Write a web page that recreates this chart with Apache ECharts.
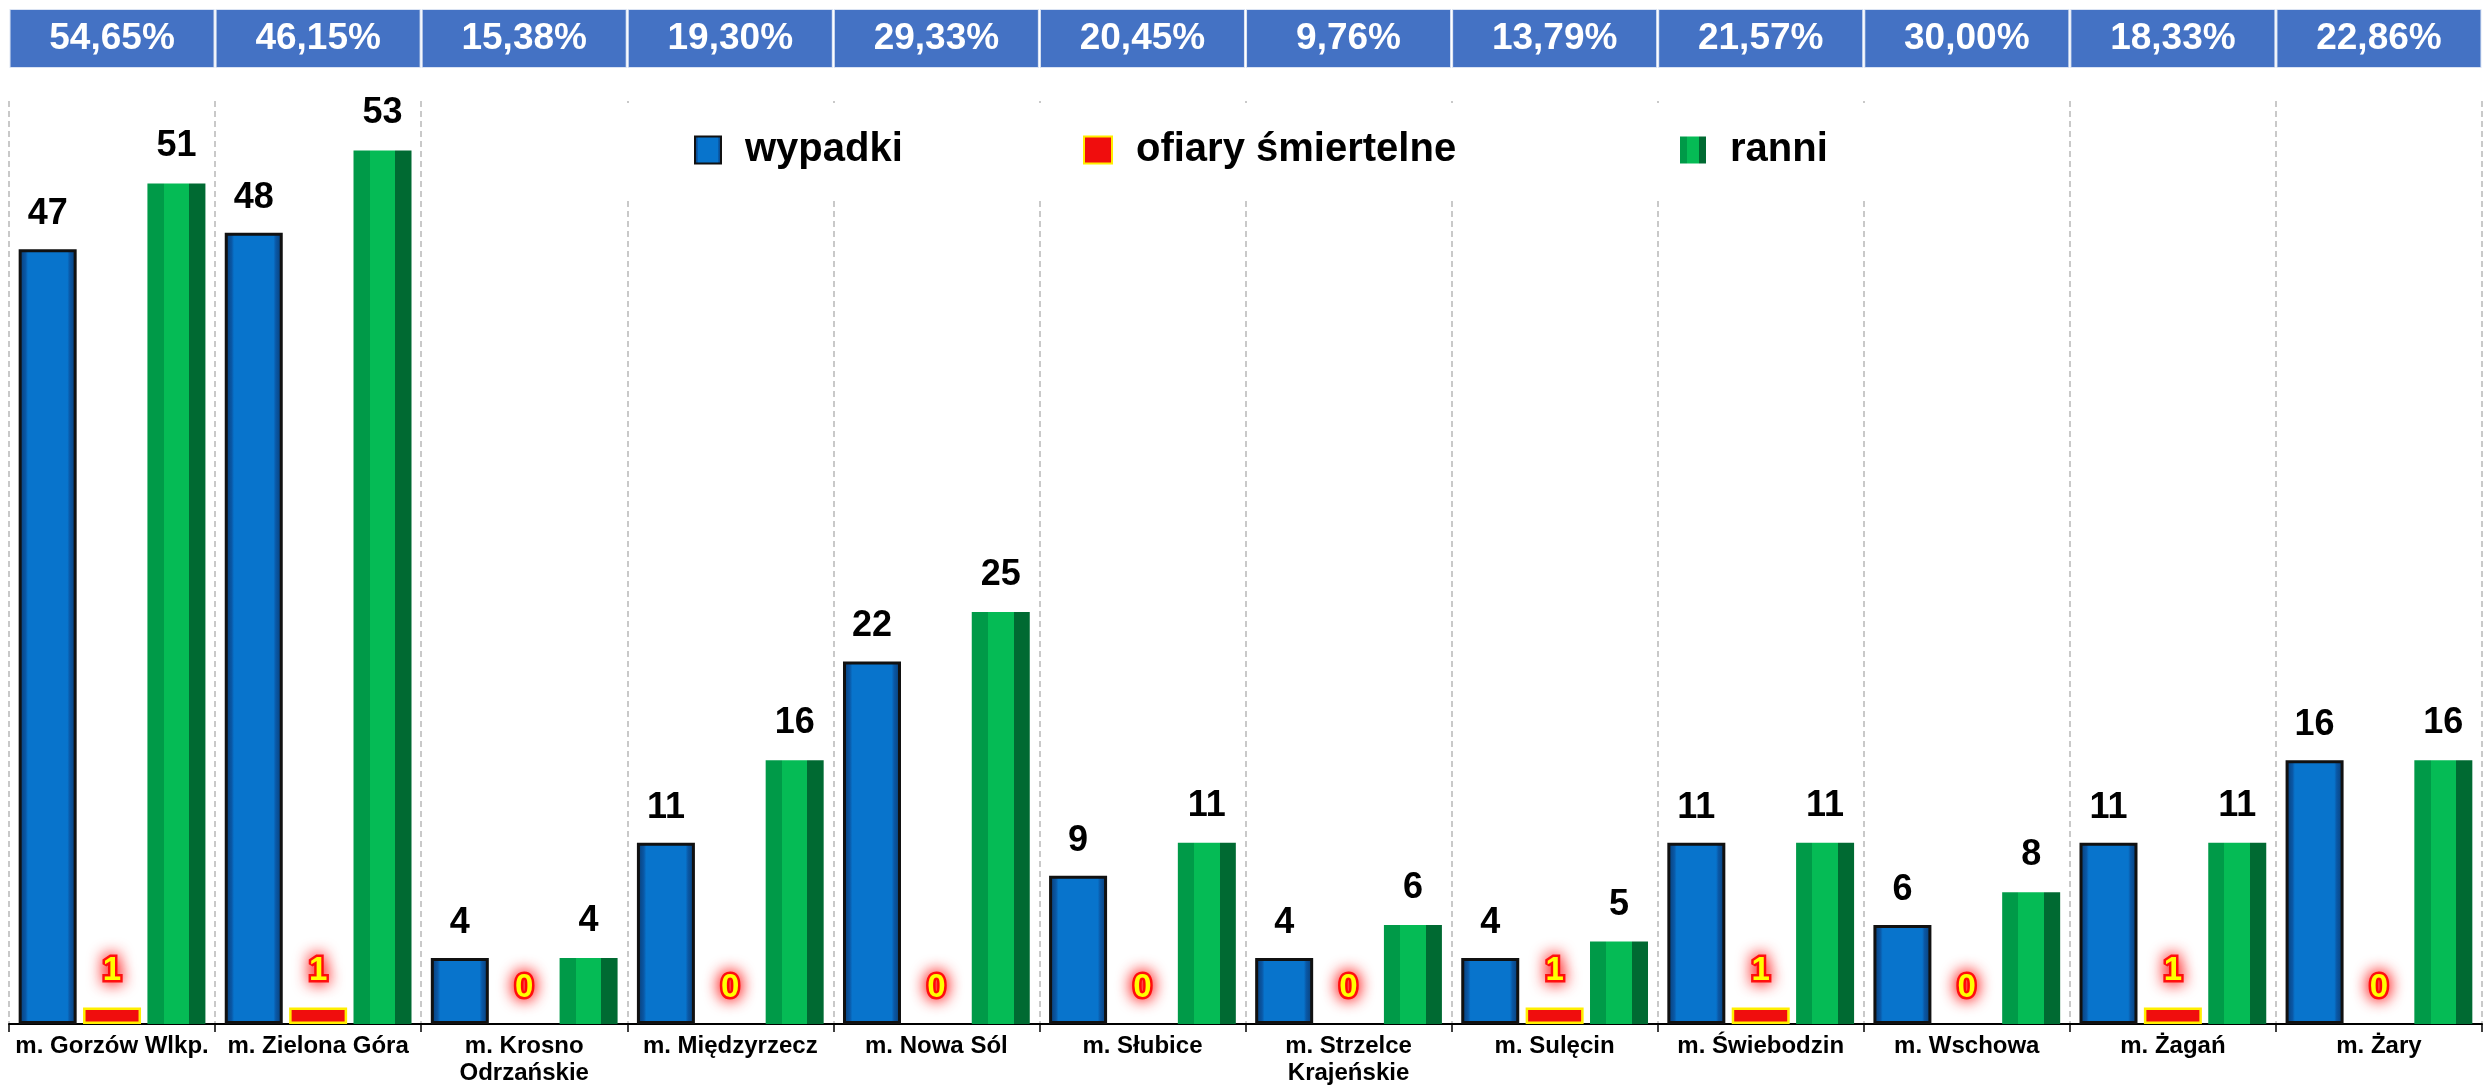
<!DOCTYPE html>
<html>
<head>
<meta charset="utf-8">
<script src="https://cdn.jsdelivr.net/npm/echarts@6/dist/echarts.min.js"></script>
<style>
  html, body { margin: 0; padding: 0; background: #fff; }
  #charts { width: 2484px; height: 1091px; }
</style>
</head>
<body>
<div id="charts"></div>
<script>
// miasta (kategorie)
var miasta = ['m. Gorzów Wlkp.', 'm. Zielona Góra', 'm. Krosno\nOdrzańskie', 'm. Międzyrzecz', 'm. Nowa Sól', 'm. Słubice',
  'm. Strzelce\nKrajeńskie', 'm. Sulęcin', 'm. Świebodzin', 'm. Wschowa', 'm. Żagań', 'm. Żary'];
// udział procentowy (nagłówek)
var procenty = ['54,65%', '46,15%', '15,38%', '19,30%', '29,33%', '20,45%', '9,76%', '13,79%', '21,57%', '30,00%', '18,33%', '22,86%'];
var wypadki = [47, 48, 4, 11, 22, 9, 4, 4, 11, 6, 11, 16];
var ofiary = [1, 1, 0, 0, 0, 0, 0, 1, 1, 0, 1, 0];
var ranni = [51, 53, 4, 16, 25, 11, 6, 5, 11, 8, 11, 16];

var font = 'Liberation Sans, Arial, sans-serif';
var myChart = echarts.init(document.getElementById('charts'));

var blueFill = new echarts.graphic.LinearGradient(0, 0, 1, 0, [
  { offset: 0, color: '#083a70' }, { offset: 0.12, color: '#0a58a6' },
  { offset: 0.16, color: '#0874cc' }, { offset: 0.84, color: '#0874cc' },
  { offset: 0.88, color: '#0a58a6' }, { offset: 1, color: '#083a70' }
]);
var greenFill = new echarts.graphic.LinearGradient(0, 0, 1, 0, [
  { offset: 0, color: '#009a48' }, { offset: 0.28, color: '#009a48' },
  { offset: 0.28, color: '#05bb55' }, { offset: 0.72, color: '#05bb55' },
  { offset: 0.72, color: '#006a32' }, { offset: 1, color: '#006a32' }
]);

// słupki zerowe bez żółtej ramki
var ofiaryDane = ofiary.map(function (v) {
  return v === 0 ? { value: v, itemStyle: { borderWidth: 0 } } : v;
});

var legendText = { fontSize: 40, fontWeight: 'bold', color: '#000', fontFamily: font, padding: [0, 0, 0, 19] };

var option = {
  animation: false,
  grid: { left: 9, top: 101, width: 2484, height: 923 },
  legend: [
    { data: ['wypadki'], left: 574, top: 103, padding: [27, 40, 28, 120], backgroundColor: '#fff', icon: 'rect',
      itemWidth: 26, itemHeight: 27, selectedMode: false, textStyle: legendText },
    { data: ['ofiary śmiertelne'], left: 950, top: 103, padding: [27, 40, 28, 133], backgroundColor: '#fff', icon: 'rect',
      itemWidth: 28, itemHeight: 27, selectedMode: false, textStyle: legendText },
    { data: ['ranni'], left: 1540, top: 103, padding: [27, 70, 28, 140], backgroundColor: '#fff', icon: 'rect',
      itemWidth: 26, itemHeight: 27, selectedMode: false, textStyle: legendText }
  ],
  xAxis: [
    {
      type: 'category',
      data: miasta,
      position: 'bottom',
      axisLine: { lineStyle: { color: '#000', width: 2 } },
      axisTick: { show: true, interval: 0, length: 8, lineStyle: { color: '#000', width: 1.5 } },
      axisLabel: { interval: 0, margin: 9, fontSize: 24, lineHeight: 27, fontWeight: 'bold', color: '#000', fontFamily: font },
      splitLine: { show: true, interval: 0, lineStyle: { color: '#b8b8b8', type: [6, 4], width: 1.5 } }
    },
    {
      type: 'category',
      data: procenty,
      position: 'top',
      axisLine: { show: false },
      axisTick: { show: false },
      axisLabel: {
        interval: 0, margin: 34, width: 203, height: 57, lineHeight: 57, align: 'center',
        backgroundColor: '#4472c4', borderColor: '#dae3f3', borderWidth: 1,
        color: '#fff', fontSize: 37, fontWeight: 'bold', fontFamily: font
      }
    }
  ],
  yAxis: { type: 'value', min: 0, max: 56, show: false },
  series: [
    {
      name: 'wypadki',
      type: 'bar',
      barWidth: 58,
      barGap: '11%',
      data: wypadki,
      itemStyle: { color: blueFill, borderColor: '#111', borderWidth: 3 },
      label: { show: true, position: 'top', distance: 17, fontSize: 36, fontWeight: 'bold', color: '#000', fontFamily: font }
    },
    {
      name: 'ofiary śmiertelne',
      type: 'bar',
      barWidth: 58,
      data: ofiaryDane,
      itemStyle: { color: '#f00d0d', borderColor: '#ffee00', borderWidth: 2.5 },
      label: {
        show: true, position: 'top', distance: 20, fontSize: 33, fontWeight: 'bold', color: '#ffff00', fontFamily: font,
        textBorderColor: 'rgba(255,0,0,0.9)', textBorderWidth: 5, textShadowColor: '#ff0000', textShadowBlur: 16
      }
    },
    {
      name: 'ranni',
      type: 'bar',
      barWidth: 58,
      data: ranni,
      itemStyle: { color: greenFill },
      label: { show: true, position: 'top', distance: 19, fontSize: 36, fontWeight: 'bold', color: '#000', fontFamily: font }
    }
  ]
};

myChart.setOption(option);
</script>
</body>
</html>
